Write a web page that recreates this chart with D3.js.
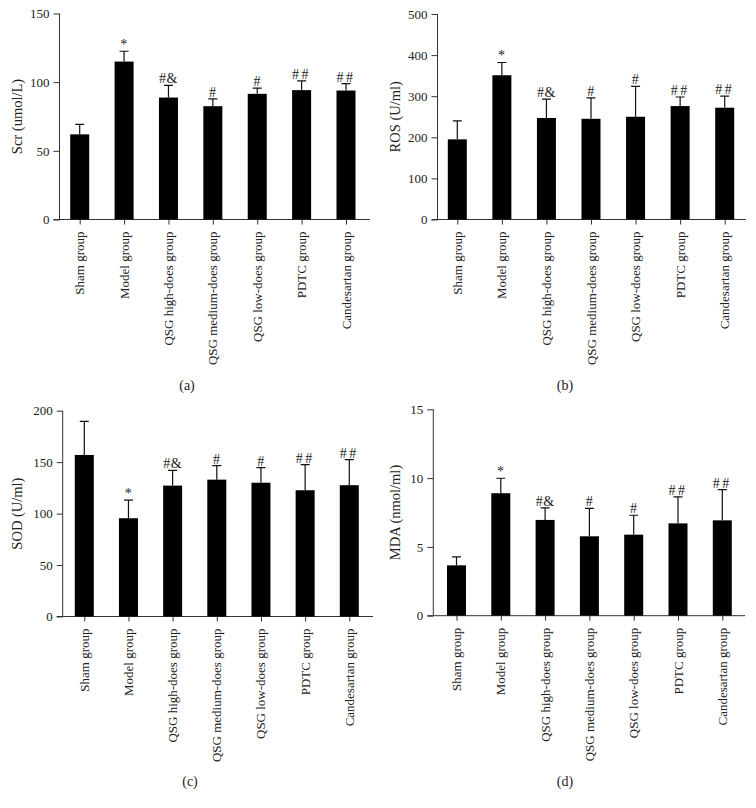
<!DOCTYPE html>
<html>
<head>
<meta charset="utf-8">
<script src="https://cdn.jsdelivr.net/npm/d3@7/dist/d3.min.js"></script>
<style>
  html, body { margin: 0; padding: 0; background: #fff; }
  svg { display: block; }
  text { font-family: "Liberation Serif", "DejaVu Serif", serif; fill: #222; }
</style>
</head>
<body>
<svg id="chart" width="756" height="808"></svg>
<script>
// ---- Data ----
const categories = ["Sham group", "Model group", "QSG high-does group", "QSG medium-does group",
                    "QSG low-does group", "PDTC group", "Candesartan group"];
const marks = ["", "*", "#&", "#", "#", "##", "##"];

const scrMean = [62, 115, 88.8, 82.5, 91.5, 94.2, 93.9];
const scrErr  = [69.2, 122.5, 97.6, 87.8, 95.6, 101, 99];
const scrTicks = [0, 50, 100, 150];

const rosMean = [195, 351, 247, 245, 250, 276, 272];
const rosErr  = [240, 382, 293, 296, 324, 298, 300];
const rosTicks = [0, 100, 200, 300, 400, 500];

const sodMean = [157, 95.5, 127.2, 133, 130, 122.7, 127.6];
const sodErr  = [189.7, 113, 142, 146.6, 144.7, 147.6, 152.4];
const sodTicks = [0, 50, 100, 150, 200];

const mdaMean = [3.66, 8.9, 6.96, 5.77, 5.89, 6.71, 6.93];
const mdaErr  = [4.27, 9.99, 7.83, 7.8, 7.3, 8.63, 9.16];
const mdaTicks = [0, 5, 10, 15];

const panels = [
  { title: "Scr (umol/L)", caption: "(a)", mean: scrMean, err: scrErr, ticks: scrTicks,
    ax: 59.5, y0: 219.5, yTop: 13.5, c0: 79.7, c1: 346, xEnd: 370, titleX: 17, capX: 187, capY: 390 },
  { title: "ROS (U/ml)", caption: "(b)", mean: rosMean, err: rosErr, ticks: rosTicks,
    ax: 437.5, y0: 219.5, yTop: 14, c0: 457.3, c1: 724.7, xEnd: 746, titleX: 395, capX: 565, capY: 390 },
  { title: "SOD (U/ml)", caption: "(c)", mean: sodMean, err: sodErr, ticks: sodTicks,
    ax: 62.7, y0: 616.5, yTop: 410.7, c0: 84.3, c1: 349.3, xEnd: 373, titleX: 17, capX: 190, capY: 786 },
  { title: "MDA (nmol/ml)", caption: "(d)", mean: mdaMean, err: mdaErr, ticks: mdaTicks,
    ax: 433.3, y0: 615.7, yTop: 409.3, c0: 456.5, c1: 722.3, xEnd: 745, titleX: 395, capX: 565, capY: 786 }
];

const svg = d3.select("#chart");
const barW = 19;
const capW = 9;
const axisColor = "#333";

panels.forEach(p => {
  const g = svg.append("g");
  const yMax = p.ticks[p.ticks.length - 1];
  const y = d3.scaleLinear().domain([0, yMax]).range([p.y0, p.yTop]);
  const x = d3.scalePoint().domain(categories).range([p.c0, p.c1]);

  // y axis
  const yAxis = d3.axisLeft(y).tickValues(p.ticks).tickSize(6).tickPadding(4);
  const yg = g.append("g").attr("transform", `translate(${p.ax},0)`).call(yAxis);
  yg.select(".domain").attr("stroke", axisColor).attr("d", `M-0,${p.yTop}V${p.y0}`);
  yg.selectAll(".tick line").attr("stroke", axisColor);
  yg.selectAll(".tick text").style("font-size", "13px").style("font-family", "Liberation Serif, serif").attr("fill", "#222");

  // x axis
  const xAxis = d3.axisBottom(x).tickSize(5).tickFormat("");
  const xg = g.append("g").attr("transform", `translate(0,${p.y0})`).call(xAxis);
  xg.select(".domain").attr("stroke", axisColor).attr("d", `M${p.ax - 6},0H${p.xEnd}`);
  xg.selectAll(".tick line").attr("stroke", axisColor);

  // x labels rotated
  g.selectAll(".xlab").data(categories).enter().append("text")
    .attr("transform", d => `translate(${x(d) + 4.5},${p.y0 + 12}) rotate(-90)`)
    .attr("text-anchor", "end")
    .style("font-size", "13px")
    .text(d => d);

  // bars
  g.selectAll(".bar").data(p.mean).enter().append("rect")
    .attr("x", (d, i) => x(categories[i]) - barW / 2)
    .attr("y", d => y(d))
    .attr("width", barW)
    .attr("height", d => p.y0 - y(d))
    .attr("fill", "#000");

  // error bars (upper only)
  g.selectAll(".err").data(p.err).enter().append("path")
    .attr("d", (d, i) => {
      const cx = x(categories[i]);
      return `M${cx},${y(p.mean[i])}V${y(d)}M${cx - capW / 2},${y(d)}H${cx + capW / 2}`;
    })
    .attr("stroke", "#111").attr("stroke-width", 1.2).attr("fill", "none");

  // significance marks
  g.selectAll(".mark").data(marks).enter().append("text")
    .attr("x", (d, i) => x(categories[i]))
    .attr("y", (d, i) => y(p.err[i]) - 2)
    .attr("text-anchor", "middle")
    .style("font-size", "14px")
    .style("letter-spacing", d => d === "##" ? "2.5px" : "0.5px")
    .text(d => d);

  // y title
  g.append("text")
    .attr("transform", `translate(${p.titleX + 4.5},${(p.y0 + p.yTop) / 2}) rotate(-90)`)
    .attr("text-anchor", "middle")
    .style("font-size", "14.5px")
    .text(p.title);

  // caption
  g.append("text")
    .attr("x", p.capX).attr("y", p.capY)
    .attr("text-anchor", "middle")
    .style("font-size", "14px")
    .text(p.caption);
});
</script>
</body>
</html>
